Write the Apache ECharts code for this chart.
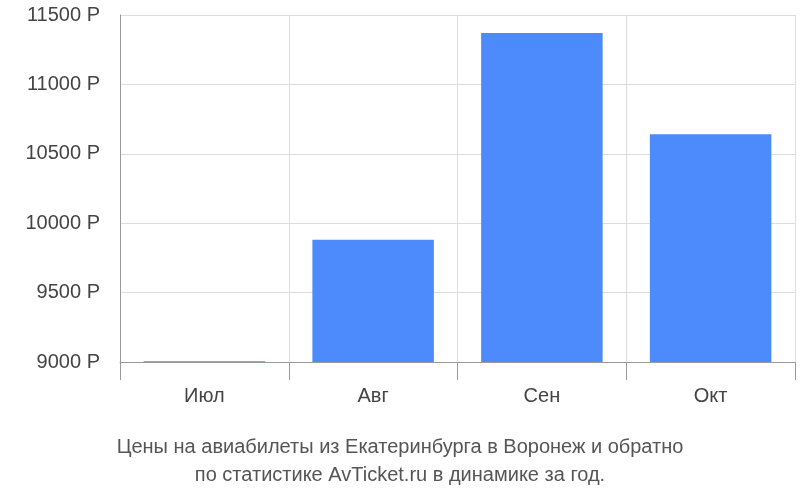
<!DOCTYPE html>
<html><head><meta charset="utf-8">
<script src="https://cdn.jsdelivr.net/npm/echarts@6/dist/echarts.min.js"></script>
<style>html,body{margin:0;padding:0;background:#fff}#c{width:800px;height:500px}</style>
</head><body><div id="c"></div>
<script>
const categories = ["Июл","Авг","Сен","Окт"];
const prices = [9005, 9880, 11370, 10640];
const chart = echarts.init(document.getElementById('c'));
chart.setOption({
  animation:false,
  title:{text:"Цены на авиабилеты из Екатеринбурга в Воронеж и обратно\nпо статистике AvTicket.ru в динамике за год.",
    left:'center', top:428, textStyle:{fontFamily:'Liberation Sans, Arial', fontSize:20, fontWeight:'normal', color:'#555', lineHeight:28}},
  grid:{left:120,right:5,top:15,bottom:138},
  xAxis:{type:'category',data:categories,
    axisLine:{show:true,lineStyle:{color:'#999'}},
    axisTick:{show:true,length:18,lineStyle:{color:'#999'}},
    splitLine:{show:true,lineStyle:{color:'#ddd'}},
    axisLabel:{fontFamily:'Liberation Sans, Arial',fontSize:20,color:'#444',margin:24}},
  yAxis:{type:'value',min:9000,max:11500,interval:500,
    axisLine:{show:true,lineStyle:{color:'#999'}},
    splitLine:{lineStyle:{color:'#ddd'}},
    axisLabel:{formatter:v=>v+' Р',fontFamily:'Liberation Sans, Arial',fontSize:20,color:'#444',margin:20}},
  series:[{type:'bar',data:prices,barWidth:'72%',itemStyle:{color:'#4d8afc'}}]
});
</script></body></html>
